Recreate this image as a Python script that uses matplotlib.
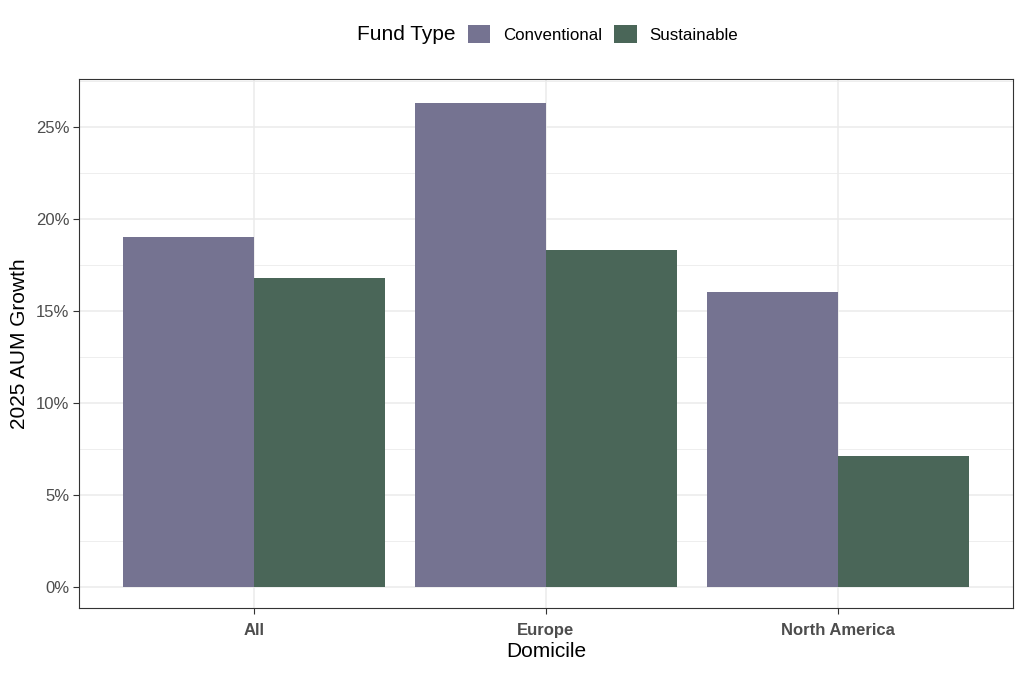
import matplotlib.pyplot as plt
import numpy as np
from matplotlib.patches import Patch
from matplotlib.ticker import FuncFormatter, MultipleLocator

plt.rcParams['font.family'] = ['Liberation Sans', 'DejaVu Sans']

# données
domiciles = ["All", "Europe", "North America"]
conventional = [19.0, 26.3, 16.0]
sustainable = [16.8, 18.3, 7.1]
fund_types = ["Conventional", "Sustainable"]
couleurs = ["#757391", "#4A6658"]

fig = plt.figure(figsize=(10.24, 6.76), dpi=100)
ax = fig.add_axes([79 / 1024, 68 / 676, 934 / 1024, 529 / 676])

x = np.arange(len(domiciles))
w = 0.45
ax.bar(x - w / 2, conventional, width=w, color=couleurs[0], zorder=3)
ax.bar(x + w / 2, sustainable, width=w, color=couleurs[1], zorder=3)

ax.set_xlim(-0.6, 2.6)
ax.set_ylim(-1.15, 27.6)

# grille style theme_bw
ax.yaxis.set_major_locator(MultipleLocator(5))
ax.yaxis.set_minor_locator(MultipleLocator(2.5))
ax.yaxis.set_major_formatter(FuncFormatter(lambda v, p: f"{v:.0f}%"))
ax.grid(which='major', color='#EBEBEB', linewidth=1.1, zorder=0)
ax.grid(which='minor', axis='y', color='#EBEBEB', linewidth=0.6, zorder=0)
ax.tick_params(which='minor', length=0)
ax.tick_params(which='major', length=4, width=0.8, color='#333333',
               labelsize=12, labelcolor='#4D4D4D', pad=3)
ax.tick_params(axis='x', pad=7)
ax.set_xticks(x)
ax.set_xticklabels(domiciles, fontweight='bold')
for s in ax.spines.values():
    s.set_color('#333333')
    s.set_linewidth(0.8)

ax.set_xlabel("Domicile", fontsize=15, labelpad=3)
ax.set_ylabel("2025 AUM Growth", fontsize=15, labelpad=5)

# légende en haut
fig.text(357 / 1024, 1 - 35 / 676, "Fund Type", fontsize=15, va='center', ha='left')
handles = [Patch(facecolor=c, edgecolor='none') for c in couleurs]
fig.legend(handles, fund_types, loc='center', bbox_to_anchor=(603 / 1024, 1 - 34 / 676),
           ncol=2, frameon=False, fontsize=12.2, handlelength=1.3, handleheight=1.3,
           handletextpad=0.75, columnspacing=0.75, borderpad=0)

fig.savefig("out.png", dpi=100)
